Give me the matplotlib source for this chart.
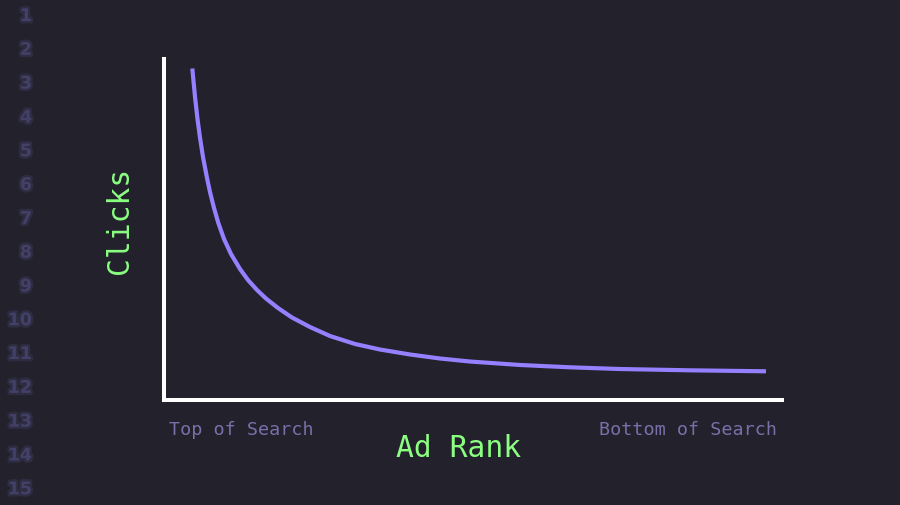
import matplotlib
matplotlib.use("Agg")
import matplotlib.pyplot as plt
import matplotlib.patheffects as pe

# ---- data ----
ad_rank = [4.58, 5.02, 5.42, 5.83, 6.31, 6.96, 7.44, 8.09, 8.79, 9.71,
           10.84, 12.30, 13.59, 15.05, 16.50, 18.45, 20.71, 23.62, 26.86,
           30.91, 34.95, 39.81, 44.66, 49.51, 57.61, 65.70, 73.79, 85.11,
           97.41]
clicks = [97.07, 88.71, 82.26, 76.69, 71.11, 64.96, 60.85, 56.16, 51.76,
          47.07, 42.67, 38.27, 35.04, 32.11, 29.62, 26.83, 24.05, 21.26,
          18.62, 16.28, 14.66, 13.20, 12.02, 11.14, 10.12, 9.44, 8.94,
          8.56, 8.27]
tick_labels = ["Top of Search", "Bottom of Search"]
x_label = "Ad Rank"
y_label = "Clicks"
line_numbers = [str(i) for i in range(1, 16)]

BG = "#22212c"
PURPLE = "#9580ff"
GREEN = "#8aff80"
COMMENT = "#7970a9"
DIM = "#45426a"
MONO = ["DejaVu Sans Mono"]

fig = plt.figure(figsize=(9, 5.06), dpi=100, facecolor=BG)
ax = fig.add_axes([164 / 900, 105.5 / 506, 618 / 900, 341 / 506])
ax.set_facecolor(BG)
ax.set_xlim(0, 100)
ax.set_ylim(0, 100)

ax.plot(ad_rank, clicks, color=PURPLE, lw=3.0, solid_capstyle="butt",
        solid_joinstyle="round", antialiased=True)

for s in ("top", "right"):
    ax.spines[s].set_visible(False)
for s in ("left", "bottom"):
    ax.spines[s].set_color("white")
    ax.spines[s].set_linewidth(2.9)
    ax.spines[s].set_capstyle("projecting")
ax.set_xticks([])
ax.set_yticks([])

# tick-like labels under the x axis
ax.annotate(tick_labels[0], xy=(0, 0), xycoords="axes fraction",
            xytext=(5 * 0.72, -30 * 0.72), textcoords="offset points",
            ha="left", va="center", color=COMMENT, fontsize=13.2, family=MONO)
ax.annotate(tick_labels[1], xy=(1, 0), xycoords="axes fraction",
            xytext=(-5 * 0.72, -30 * 0.72), textcoords="offset points",
            ha="right", va="center", color=COMMENT, fontsize=13.2, family=MONO)

fig.text(459 / 900, 1 - 449 / 506, x_label, ha="center", va="center",
         color=GREEN, fontsize=21.3, family=MONO)
fig.text(120 / 900, 1 - 220 / 506, y_label, ha="center", va="center",
         rotation=90, color=GREEN, fontsize=21.3, family=MONO)

# faint, blurred editor line numbers
for i, t in enumerate(line_numbers):
    y = 17 + i * 33.8
    fig.text(32 / 900, 1 - y / 506, t, ha="right", va="center",
             color=DIM, fontsize=12.5, fontweight="bold", alpha=0.9,
             path_effects=[pe.withStroke(linewidth=3.5, foreground=DIM, alpha=0.35)])

fig.savefig("out.png", dpi=100, facecolor=BG)
